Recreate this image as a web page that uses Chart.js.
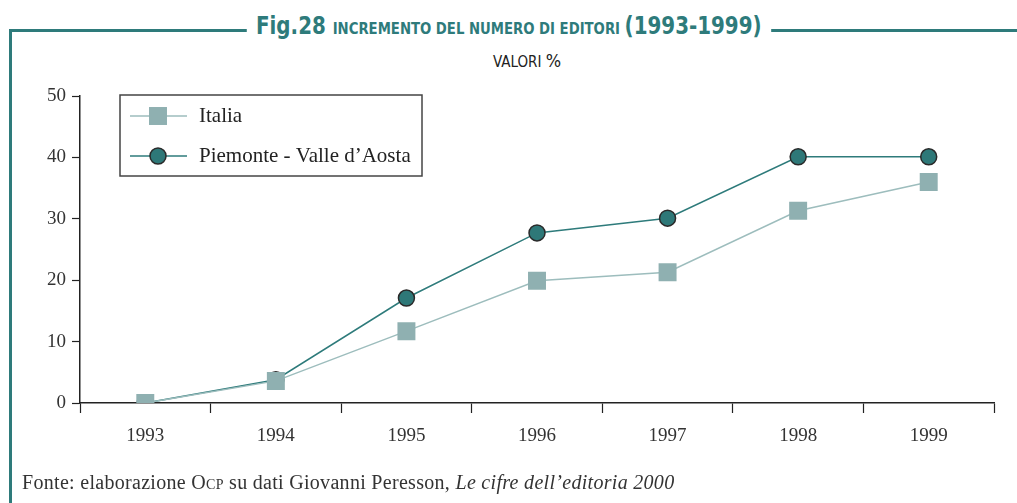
<!DOCTYPE html>
<html>
<head>
<meta charset="utf-8">
<script src="https://cdn.jsdelivr.net/npm/chart.js@4"></script>
<style>
  html, body { margin: 0; padding: 0; background: #fff; }
  body { width: 1017px; height: 503px; position: relative; overflow: hidden; }
  #frame { position: absolute; left: 9px; top: 29px; width: 1020px; height: 490px;
           border-left: 3px solid #2e7b7b; border-top: 3px solid #2e7b7b; }
  #title { position: absolute; left: 0; width: 1017px; top: 12px; text-align: center;
           font-family: "DejaVu Sans Condensed", "DejaVu Sans", sans-serif; font-weight: bold; color: #2e7b7b; }
  #title span.wrap { background: #fff; padding: 0 10px; display: inline-block; transform: scaleX(0.92); }
  #title .big { font-size: 24px; }
  #title .small { font-size: 16px; }
  #sub { position: absolute; left: 0; width: 1054px; top: 50px; text-align: center;
         font-family: "DejaVu Sans Condensed", sans-serif; font-size: 15px; color: #222; }
  #sub .pct { font-size: 18px; }
  #foot { position: absolute; left: 22px; top: 471px; font-family: "Liberation Serif", serif;
          font-size: 20px; letter-spacing: 0.3px; color: #333; }
  #foot .sc { font-size: 14px; }
  #chart { position: absolute; left: 0; top: 0; }
</style>
</head>
<body>
<div id="frame"></div>
<div id="title"><span class="wrap"><span class="big">Fig.28 </span><span class="small">INCREMENTO DEL NUMERO DI EDITORI </span><span class="big">(1993-1999)</span></span></div>
<div id="sub">VALORI <span class="pct">%</span></div>
<canvas id="chart" width="1017" height="503"></canvas>
<div id="foot">Fonte: elaborazione O<span class="sc">CP</span> su dati Giovanni Peresson, <i>Le cifre dell’editoria 2000</i></div>
<script>
const years = ['1993', '1994', '1995', '1996', '1997', '1998', '1999'];
const italia = [0, 3.6, 11.7, 19.9, 21.3, 31.3, 36.0];
const piemonte = [0, 3.8, 17.1, 27.7, 30.1, 40.1, 40.1];
const seriesNames = ['Italia', 'Piemonte - Valle d’Aosta'];
const yTicks = [0, 10, 20, 30, 40, 50];

// Legend box drawn inside the plot, like the printed figure
const boxLegend = {
    id: 'boxLegend',
    afterDraw(chart) {
        const ctx = chart.ctx;
        const x = 120, y = 95, w = 302, h = 81;
        ctx.save();
        ctx.strokeStyle = '#444';
        ctx.lineWidth = 1.5;
        ctx.strokeRect(x, y, w, h);
        chart.data.datasets.forEach((ds, i) => {
            const cy = y + 21 + i * 40;
            ctx.strokeStyle = ds.borderColor;
            ctx.lineWidth = 1.5;
            ctx.beginPath();
            ctx.moveTo(x + 10, cy);
            ctx.lineTo(x + 67, cy);
            ctx.stroke();
            ctx.fillStyle = ds.pointBackgroundColor;
            ctx.strokeStyle = ds.pointBorderColor;
            ctx.lineWidth = ds.pointBorderWidth;
            if (ds.pointStyle === 'rect') {
                const s = ds.pointRadius * Math.SQRT1_2;
                ctx.fillRect(x + 38 - s, cy - s, 2 * s, 2 * s);
            } else {
                ctx.beginPath();
                ctx.arc(x + 38, cy, ds.pointRadius, 0, Math.PI * 2);
                ctx.fill();
                ctx.stroke();
            }
            ctx.fillStyle = '#222';
            ctx.font = '21px "Liberation Serif", serif';
            ctx.textBaseline = 'middle';
            ctx.fillText(ds.label, x + 79, cy);
        });
        ctx.restore();
    }
};

new Chart(document.getElementById('chart'), {
    type: 'line',
    data: {
        labels: years,
        datasets: [{
            label: seriesNames[0],
            data: italia,
            borderColor: '#9dbdbd',
            borderWidth: 1.5,
            pointStyle: 'rect',
            pointRadius: 12.7,
            pointBackgroundColor: '#8fb0b1',
            pointBorderColor: '#8fb0b1',
            pointBorderWidth: 0
        }, {
            label: seriesNames[1],
            data: piemonte,
            borderColor: '#2e7b7b',
            borderWidth: 1.5,
            pointStyle: 'circle',
            pointRadius: 8,
            pointBackgroundColor: '#2e7878',
            pointBorderColor: '#2a2a2a',
            pointBorderWidth: 1.5
        }]
    },
    options: {
        responsive: false,
        animation: false,
        layout: { padding: { left: 0, right: 23, top: 96, bottom: 45 } },
        plugins: { legend: { display: false }, tooltip: { enabled: false } },
        scales: {
            x: {
                offset: true,
                grid: { offset: true, drawOnChartArea: false, tickLength: 10, color: '#222', tickWidth: 1.2 },
                border: { color: '#222', width: 1.5 },
                ticks: { color: '#333', padding: 12, font: { family: 'Liberation Serif', size: 19 } },
                afterFit(scale) { scale.height = 55; }
            },
            y: {
                min: 0,
                max: 50,
                afterBuildTicks(scale) { scale.ticks = yTicks.map(v => ({ value: v })); },
                grid: { drawOnChartArea: false, tickLength: 8, color: '#222', tickWidth: 1.2 },
                border: { color: '#222', width: 1.5 },
                ticks: { color: '#333', padding: 6, font: { family: 'Liberation Serif', size: 19 } },
                afterFit(scale) { scale.width = 80; }
            }
        }
    },
    plugins: [boxLegend]
});
</script>
</body>
</html>
